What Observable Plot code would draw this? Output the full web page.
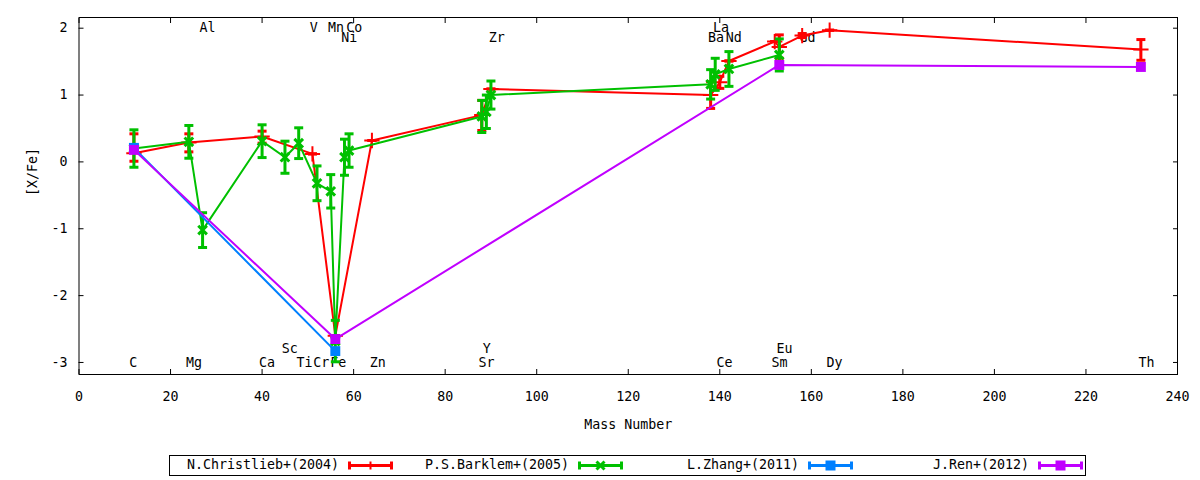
<!DOCTYPE html>
<html><head><meta charset="utf-8">
<script src="https://cdn.jsdelivr.net/npm/d3@7"></script>
<script src="https://cdn.jsdelivr.net/npm/@observablehq/plot@0.6"></script>
<style>
html,body{margin:0;padding:0;background:#fff;}
#wrap{position:relative;width:1200px;height:480px;font-family:"DejaVu Sans Mono",monospace;font-size:13.3px;color:#000;}
#wrap svg.plot{position:absolute;left:0;top:0;}
#legend{position:absolute;left:169px;top:455px;width:917px;height:21px;box-sizing:border-box;border:1px solid #000;}
.lt{position:absolute;top:0px;line-height:17px;white-space:pre;text-align:right;}
.ls{position:absolute;top:2px;}
</style></head><body><div id="wrap"><div id="legend"></div></div>
<script>
// ---- axes ----
const xTicks = [0, 20, 40, 60, 80, 100, 120, 140, 160, 180, 200, 220, 240];
const yTicks = [-3, -2, -1, 0, 1, 2];

// ---- series ----
const seriesNames = ["N.Christlieb+(2004)", "P.S.Barklem+(2005)", "L.Zhang+(2011)", "J.Ren+(2012)"];
const seriesColors = ["#ff0000", "#00c000", "#0080ff", "#c000ff"];

// N.Christlieb+(2004)
const christliebMass = [12, 24, 40, 51, 56, 64, 88, 90, 138, 140, 142, 152, 153, 158, 164, 232];
const christliebVal  = [0.13, 0.29, 0.38, 0.12, -2.6, 0.32, 0.7, 1.09, 1.0, 1.19, 1.51, 1.8, 1.72, 1.89, 1.97, 1.68];
const christliebLo   = [0.01, 0.15, 0.28, 0.12, -2.6, 0.32, 0.47, 1.09, 0.8, 1.1, 1.51, 1.8, 1.55, 1.86, 1.97, 1.52];
const christliebHi   = [0.42, 0.42, 0.46, 0.12, -2.6, 0.32, 0.92, 1.09, 1.2, 1.28, 1.51, 1.8, 1.9, 1.92, 1.97, 1.83];

// P.S.Barklem+(2005)
const barklemMass = [12, 24, 27, 40, 45, 48, 52, 55, 56, 58, 59, 88, 89, 90, 138, 139, 142, 153];
const barklemVal  = [0.2, 0.3, -1.02, 0.31, 0.07, 0.28, -0.32, -0.44, -2.68, 0.07, 0.17, 0.68, 0.75, 1.0, 1.16, 1.31, 1.39, 1.6];
const barklemErr  = [0.28, 0.245, 0.26, 0.245, 0.24, 0.23, 0.26, 0.25, 0.31, 0.27, 0.25, 0.24, 0.25, 0.21, 0.22, 0.24, 0.26, 0.24];

// L.Zhang+(2011)
const zhangMass = [12, 56];
const zhangVal  = [0.21, -2.83];

// J.Ren+(2012)
const renMass = [12, 56, 153, 232];
const renVal  = [0.18, -2.65, 1.45, 1.42];

// ---- element labels ----
const elemNames  = ["C","Mg","Al","Ca","Sc","Ti","V","Cr","Mn","Fe","Ni","Co","Zn","Sr","Y","Zr","Ba","La","Ce","Nd","Sm","Eu","Gd","Dy","Th"];
const elemLabelX = [11.0,23.4,26.3,39.3,44.3,47.5,50.4,51.2,54.4,54.9,57.3,58.4,63.5,87.3,88.2,89.5,137.4,138.5,139.3,141.3,151.3,152.4,157.4,163.3,231.5];
const elemLabelY = [-3,-3,2,-3,-2.8,-3,2,-3,2,-3,1.85,2,-3,-3,-2.8,1.85,1.85,2,-3,1.85,-3,-2.8,1.85,-3,-3];

// ---- build tables ----
const red = christliebMass.map((m, i) => ({m, v: christliebVal[i], lo: christliebLo[i], hi: christliebHi[i]}));
const green = barklemMass.map((m, i) => ({m, v: barklemVal[i], lo: barklemVal[i] - barklemErr[i], hi: barklemVal[i] + barklemErr[i]}));
const blue = zhangMass.map((m, i) => ({m, v: zhangVal[i]}));
const purple = renMass.map((m, i) => ({m, v: renVal[i]}));
const labels = elemNames.map((t, i) => ({t, x: elemLabelX[i], y: elemLabelY[i]}));

const cap = {draw(ctx, size) { const w = Math.sqrt(size / Math.PI); ctx.moveTo(-w, 0); ctx.lineTo(w, 0); }};

function errSeries(data, color, symbol, r, sw) {
  return [
    Plot.line(data, {x: "m", y: "v", stroke: color, strokeWidth: 2}),
    Plot.ruleX(data, {x: "m", y1: "lo", y2: "hi", stroke: color, strokeWidth: 3}),
    Plot.dot(data, {x: "m", y: "lo", symbol: cap, r: 4.5, stroke: color, strokeWidth: 3}),
    Plot.dot(data, {x: "m", y: "hi", symbol: cap, r: 4.5, stroke: color, strokeWidth: 3}),
    Plot.dot(data, {x: "m", y: "v", symbol, r, stroke: color, strokeWidth: sw})
  ];
}
function sqSeries(data, color) {
  return [
    Plot.line(data, {x: "m", y: "v", stroke: color, strokeWidth: 2}),
    Plot.dot(data, {x: "m", y: "v", symbol: "square", r: 5.6, fill: color, stroke: "none"})
  ];
}

const plot = Plot.plot({
  width: 1200, height: 450,
  marginLeft: 78.5, marginRight: 23, marginTop: 17, marginBottom: 76,
  style: {fontFamily: "DejaVu Sans Mono", fontSize: "13.3px", color: "#000", background: "transparent"},
  x: {domain: [0, 240]},
  y: {domain: [-3.18, 2.16]},
  marks: [
    Plot.axisX({anchor: "bottom", ticks: xTicks, tickSize: -5, tickPadding: 22, tickFormat: d => String(d), label: null}),
    Plot.axisX({anchor: "top", ticks: xTicks, tickSize: -5, tickFormat: () => "", label: null}),
    Plot.axisY({anchor: "left", ticks: yTicks, tickSize: -5, tickPadding: 16.5, tickFormat: d => String(d), label: null}),
    Plot.axisY({anchor: "right", ticks: yTicks, tickSize: -5, tickFormat: () => "", label: null}),
    Plot.text(labels, {x: "x", y: "y", text: "t", textAnchor: "start", lineAnchor: "middle", fill: "#000"}),
    ...errSeries(red, seriesColors[0], "plus", 5, 2),
    ...errSeries(green, seriesColors[1], "times", 4, 3),
    ...sqSeries(blue, seriesColors[2]),
    ...sqSeries(purple, seriesColors[3]),
    Plot.frame({stroke: "#000", strokeWidth: 1}),
    Plot.text(["[X/Fe]"], {frameAnchor: "left", dx: -46, rotate: -90, fill: "#000"}),
    Plot.text(["Mass Number"], {frameAnchor: "bottom", dy: 54, fill: "#000"})
  ]
});
plot.classList.add("plot");
document.getElementById("wrap").prepend(plot);

// ---- legend ----
const legend = d3.select("#legend");
seriesNames.forEach((name, i) => {
  const textRight = 338 + 230 * i - 169;
  const sampleLeft = 347 + 230 * i - 169;
  legend.append("div").attr("class", "lt")
    .style("left", (textRight - 200) + "px").style("width", "200px").text(name);
  const s = legend.append("svg").attr("class", "ls")
    .style("left", sampleLeft + "px").attr("width", 46).attr("height", 15);
  const c = seriesColors[i], cy = 7.5;
  s.append("line").attr("x1", 1).attr("x2", 44).attr("y1", cy).attr("y2", cy).attr("stroke", c).attr("stroke-width", 3);
  s.append("line").attr("x1", 1.5).attr("x2", 1.5).attr("y1", cy - 4).attr("y2", cy + 4).attr("stroke", c).attr("stroke-width", 3);
  s.append("line").attr("x1", 43.5).attr("x2", 43.5).attr("y1", cy - 4).attr("y2", cy + 4).attr("stroke", c).attr("stroke-width", 3);
  if (i === 0) {
    s.append("line").attr("x1", 22.5).attr("x2", 22.5).attr("y1", cy - 4).attr("y2", cy + 4).attr("stroke", c).attr("stroke-width", 2);
  } else if (i === 1) {
    s.append("path").attr("d", `M${22.5-4},${cy-4}L${22.5+4},${cy+4}M${22.5-4},${cy+4}L${22.5+4},${cy-4}`).attr("stroke", c).attr("stroke-width", 3);
  } else {
    s.append("rect").attr("x", 17.5).attr("y", cy - 5).attr("width", 10).attr("height", 10).attr("fill", c);
  }
});
</script>
</body></html>
